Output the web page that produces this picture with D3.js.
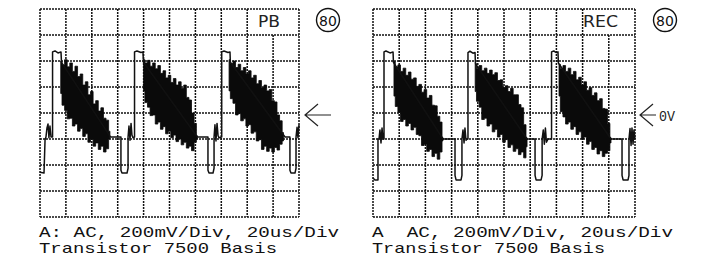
<!DOCTYPE html>
<html>
<head>
<meta charset="utf-8">
<script src="https://cdn.jsdelivr.net/npm/d3@7"></script>
<style>
  body { margin: 0; background: #fff; }
  svg { display: block; }
  text { white-space: pre; }
</style>
</head>
<body>
<svg id="chart" width="707" height="269"></svg>
<script>
// scope graticule: 20us/Div across 10 divisions, 200mV/Div over 8 divisions
var timeTicks = [0, 20, 40, 60, 80, 100, 120, 140, 160, 180, 200];
var voltTicks = [-800, -600, -400, -200, 0, 200, 400, 600, 800];

// trace: [time us, mV]
var pbTrace = [
  [0,-455],[3.1,-462],[3.9,-205],[4.6,-185],[5.4,-115],[6.2,-85],[6.9,-190],[7.7,-100],[8.5,-185],[9.7,-185],
  [9.7,470],[11.6,477],[13.9,462],[16.2,470],[16.6,390],
  [54.5,-185],[62.5,-185],[62.5,-440],[63.3,-462],[67.2,-462],[68.0,-425],[68.0,-185],[68.7,-100],[69.5,-210],
  [70.3,-80],[71.0,-170],[71.8,-190],[73.0,-185],[73.0,470],[74.9,477],[78.0,465],[79.5,470],[79.9,390],
  [121.5,-185],[129.7,-185],[129.7,-440],[130.5,-462],[133.6,-462],[134.4,-425],[134.4,-185],[135.1,-90],[135.9,-215],
  [136.7,-80],[137.5,-175],[138.2,-190],[140.3,-185],[140.3,470],[142.1,477],[145.2,465],[146.7,470],[147,390],
  [189.2,-185],[193.0,-185],[193.0,-440],[193.8,-462],[196.9,-462],[197.7,-425],[197.7,-185],[198.5,-110],[199.2,-190],[200,-90]
];

// noisy part of each sweep: [time us, upper mV, lower mV]
var pbBands = [
  [[16,400,150],[18,370,60],[20,410,20],[22,355,-45],[24,385,-40],[26,320,-100],[28,360,-85],[30,280,-140],[32,300,-120],[34,215,-180],
   [36,240,-160],[38,140,-225],[40,165,-200],[42,70,-255],[44,95,-230],[46,15,-280],[48,40,-255],[50,-40,-300],[52,-55,-275],[54,-140,-200]],
  [[80,410,170],[82,385,80],[84,405,45],[86,360,-20],[88,385,-15],[90,340,-85],[92,365,-70],[94,305,-125],[96,325,-105],[98,270,-160],
   [100,290,-140],[102,235,-190],[104,265,-170],[106,215,-220],[108,240,-200],[110,190,-245],[112,215,-225],[114,120,-270],[116,100,-255],
   [118,0,-290],[120,-80,-225],[121.5,-175,-200]],
  [[146,410,170],[148,380,110],[150,400,75],[152,350,-15],[154,375,-5],[156,325,-60],[158,350,-45],[160,300,-100],[162,325,-90],[164,270,-155],
   [166,290,-145],[168,225,-215],[170,250,-205],[172,195,-280],[174,215,-255],[176,170,-295],[178,180,-270],[180,95,-300],[182,85,-265],
   [184,-15,-285],[186,-60,-240],[188,-150,-215]]
];

var recTrace = [
  [0,-500],[1.5,-515],[3.8,-515],[3.8,-200],[4.6,-200],[5.3,-130],[6.1,-230],[6.9,-115],[7.6,-200],[8.4,-200],
  [8.4,470],[9.9,477],[13.0,462],[15.3,470],[15.6,390],
  [53.5,-200],[62.6,-200],[62.6,-480],[63.4,-515],[67.2,-515],[67.9,-480],[67.9,-200],[68.7,-130],[69.5,-230],[70.2,-115],
  [71.0,-210],[71.8,-200],[72.5,-200],[72.5,465],[74.0,475],[76.3,460],[77.9,465],[78.2,380],
  [117.6,-200],[123.7,-200],[123.7,-480],[124.5,-515],[128.3,-515],[129.1,-480],[129.1,-200],[130,-130],[130.8,-240],
  [131.6,-115],[132.4,-225],[133.6,-200],[136.3,-200],[136.3,470],[138,477],[140,465],[141.2,470],[141.5,385],
  [181.7,-200],[190.1,-200],[190.1,-480],[190.9,-515],[194.7,-515],[195.4,-480],[195.4,-200],[196.2,-120],[197,-250],
  [197.7,-115],[198.5,-240],[199.2,-130],[200,-200]
];

var recBands = [
  [[16,395,130],[18,355,50],[20,370,5],[22,320,-65],[24,345,-50],[26,290,-100],[28,315,-80],[30,260,-130],[32,270,-110],[34,205,-165],
   [36,220,-175],[38,160,-250],[40,180,-240],[42,115,-295],[44,135,-280],[46,60,-335],[48,55,-310],[50,-25,-355],[52,-70,-300],[53.4,-190,-215]],
  [[78,380,165],[80,345,90],[82,365,45],[84,325,-50],[86,345,-40],[88,305,-100],[90,330,-85],[92,295,-145],[94,310,-125],[96,250,-185],
   [98,255,-165],[100,195,-225],[102,210,-205],[104,165,-265],[106,190,-245],[108,140,-295],[110,140,-275],[112,65,-320],[114,40,-300],
   [116,-90,-345],[117.6,-190,-260]],
  [[142,375,130],[144,340,10],[146,365,-30],[148,320,-85],[150,345,-70],[152,295,-125],[154,320,-105],[156,255,-165],[158,275,-145],
   [160,215,-200],[162,240,-185],[164,175,-240],[166,195,-220],[168,135,-280],[170,155,-265],[172,95,-315],[174,110,-290],[176,35,-335],
   [178,30,-310],[180,-80,-290],[181.7,-190,-230]]
];

var pbCaption = ["A: AC, 200mV/Div, 20us/Div", "Transistor 7500 Basis"];
var recCaption = ["A  AC, 200mV/Div, 20us/Div", "Transistor 7500 Basis"];

var svg = d3.select("#chart");
var screenTop = 9, screenBottom = 217;
var mono = "'Liberation Mono', 'DejaVu Sans Mono', monospace";
var sans = "'DejaVu Sans', 'Liberation Sans', sans-serif";

var panels = [
  {left: 40, right: 299, trace: pbTrace, bands: pbBands, mode: "PB", modeX: 258, modeLen: 22,
   ringX: 328, arrowX: 305, zero: "", caption: pbCaption, capLen: [300, 238]},
  {left: 373, right: 635, trace: recTrace, bands: recBands, mode: "REC", modeX: 583, modeLen: 35,
   ringX: 665, arrowX: 640, zero: "0V", caption: recCaption, capLen: [301, 233]}
];

panels.forEach(function(p) {
  var x = d3.scaleLinear().domain([0, 200]).range([p.left, p.right]);
  var y = d3.scaleLinear().domain([-800, 800]).range([screenBottom, screenTop]);
  var g = svg.append("g");

  // graticule, dotted like the scope screen
  var grid = g.append("g")
    .attr("stroke", "#111")
    .attr("stroke-width", 1.5)
    .attr("stroke-dasharray", "2,1");
  grid.selectAll("line.v").data(timeTicks).enter().append("line")
    .attr("x1", d => x(d)).attr("x2", d => x(d))
    .attr("y1", d => d == 180 ? y(600) : y(800))   // mode box covers the top cell
    .attr("y2", y(-800));
  grid.selectAll("line.h").data(voltTicks).enter().append("line")
    .attr("x1", x(0)).attr("x2", x(200))
    .attr("y1", d => y(d)).attr("y2", d => y(d));

  // mode label in the top right cell
  g.append("text")
    .attr("x", p.modeX).attr("y", 27)
    .attr("textLength", p.modeLen).attr("lengthAdjust", "spacingAndGlyphs")
    .style("font-family", sans)
    .style("font-size", "15px")
    .attr("fill", "#222")
    .text(p.mode);

  // noisy sweeps, drawn as vertical hair steps
  var band = d3.area()
    .curve(d3.curveStep)
    .x(d => x(d[0]))
    .y0(d => y(d[2]))
    .y1(d => y(d[1]));
  g.selectAll("path.band").data(p.bands).enter().append("path")
    .attr("d", band)
    .attr("fill", "#0a0a0a")
    .attr("stroke", "#0a0a0a")
    .attr("stroke-width", 0.8);

  var line = d3.line().x(d => x(d[0])).y(d => y(d[1]));
  g.append("path")
    .attr("d", line(p.trace))
    .attr("fill", "none")
    .attr("stroke", "#111")
    .attr("stroke-width", 1.5)
    .attr("stroke-linejoin", "round");

  // circled picture number
  g.append("circle")
    .attr("cx", p.ringX).attr("cy", 20).attr("r", 11.5)
    .attr("fill", "none").attr("stroke", "#111").attr("stroke-width", 1.4);
  g.append("text")
    .attr("x", p.ringX).attr("y", 25.5)
    .attr("text-anchor", "middle")
    .style("font-family", sans)
    .style("font-size", "14px")
    .attr("fill", "#111")
    .text("80");

  // 0V marker
  var ay = 115;
  g.append("path")
    .attr("d", "M" + (p.arrowX + 13) + "," + (ay - 11) + "L" + p.arrowX + "," + ay + "L" + (p.arrowX + 13) + "," + (ay + 11)
      + "M" + p.arrowX + "," + ay + "H" + (p.arrowX + (p.zero ? 16 : 26)))
    .attr("fill", "none").attr("stroke", "#222").attr("stroke-width", 1.2);
  if (p.zero) {
    g.append("text")
      .attr("x", p.arrowX + 19).attr("y", 121)
      .attr("textLength", 16).attr("lengthAdjust", "spacingAndGlyphs")
      .style("font-family", mono)
      .style("font-size", "15px")
      .attr("fill", "#222")
      .text(p.zero);
  }

  // caption under the screen
  g.selectAll("text.cap").data(p.caption).enter().append("text")
    .attr("x", p.left - 1)
    .attr("y", (d, i) => 237 + i * 16)
    .attr("textLength", (d, i) => p.capLen[i])
    .attr("lengthAdjust", "spacingAndGlyphs")
    .style("font-family", mono)
    .style("font-size", "15px")
    .attr("fill", "#111")
    .text(d => d);
});
</script>
</body>
</html>
